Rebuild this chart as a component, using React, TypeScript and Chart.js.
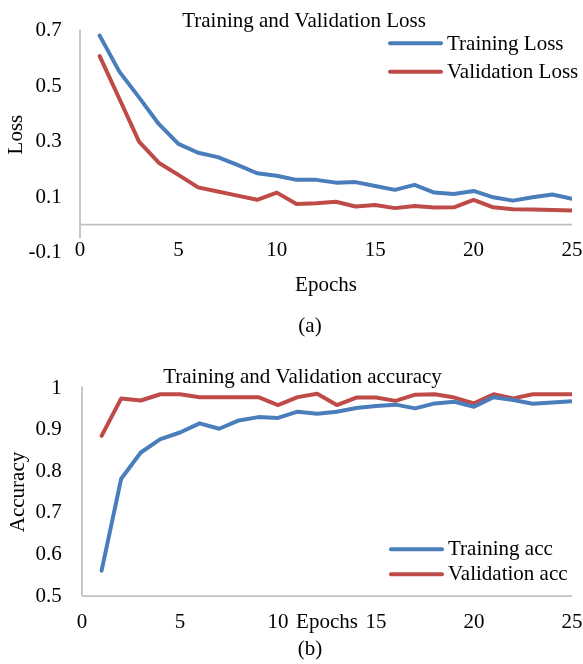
import React, { useEffect, useRef } from 'react';
import { Chart, registerables } from 'chart.js';

Chart.register(...registerables);

// ---------- data ----------
const epochs = [1, 2, 3, 4, 5, 6, 7, 8, 9, 10, 11, 12, 13, 14, 15, 16, 17, 18, 19, 20, 21, 22, 23, 24, 25];

const trainingLoss = [0.683, 0.553, 0.46, 0.364, 0.292, 0.26, 0.244, 0.216, 0.186, 0.177, 0.162, 0.162, 0.152, 0.154, 0.14, 0.126, 0.144, 0.116, 0.111, 0.122, 0.099, 0.087, 0.099, 0.109, 0.094];
const validationLoss = [0.609, 0.455, 0.3, 0.224, 0.18, 0.135, 0.12, 0.105, 0.09, 0.116, 0.075, 0.078, 0.083, 0.066, 0.071, 0.06, 0.068, 0.062, 0.063, 0.09, 0.063, 0.056, 0.055, 0.053, 0.051];

const trainingAcc = [0.561, 0.782, 0.845, 0.877, 0.893, 0.915, 0.902, 0.922, 0.93, 0.928, 0.943, 0.938, 0.943, 0.952, 0.957, 0.96, 0.951, 0.963, 0.967, 0.955, 0.978, 0.971, 0.962, 0.965, 0.968];
const validationAcc = [0.885, 0.975, 0.97, 0.985, 0.985, 0.978, 0.978, 0.978, 0.978, 0.959, 0.978, 0.986, 0.959, 0.977, 0.977, 0.969, 0.984, 0.985, 0.977, 0.963, 0.985, 0.975, 0.985, 0.985, 0.985];

const xTickValues = [0, 5, 10, 15, 20, 25];
const xTickLabels = ['0', '5', '10', '15', '20', '25'];
const lossTickValues = [-0.1, 0.1, 0.3, 0.5, 0.7];
const lossTickLabels = ['-0.1', '0.1', '0.3', '0.5', '0.7'];
const accTickValues = [0.5, 0.6, 0.7, 0.8, 0.9, 1];
const accTickLabels = ['0.5', '0.6', '0.7', '0.8', '0.9', '1'];

const lossTitle = 'Training and Validation Loss';
const accTitle = 'Training and Validation accuracy';
const lossSeriesNames = ['Training Loss', 'Validation Loss'];
const accSeriesNames = ['Training acc', 'Validation acc'];

// ---------- styles ----------
const FONT = "'Liberation Serif', 'Times New Roman', serif";
const FS = 21;
const BLUE = '#4A7EBB';
const RED = '#BE4B48';
const AXIS = '#BFBFBF';

const overlayPlugin = {
  id: 'overlay',
  beforeDatasetsDraw(chart: any, _args: any, opts: any) {
    const { ctx } = chart;
    const xs = chart.scales.x;
    const ys = chart.scales.y;
    ctx.save();
    ctx.strokeStyle = AXIS;
    ctx.lineWidth = 1.75;
    const ax = xs.getPixelForValue(xs.min);
    ctx.beginPath();
    ctx.moveTo(ax, ys.getPixelForValue(ys.max) - 1.5);
    ctx.lineTo(ax, ys.getPixelForValue(ys.min));
    ctx.stroke();
    const hy = ys.getPixelForValue(opts.hLineValue);
    ctx.beginPath();
    ctx.moveTo(ax, hy);
    ctx.lineTo(xs.getPixelForValue(xs.max), hy);
    ctx.stroke();
    ctx.restore();
  },
  afterDraw(chart: any, _args: any, opts: any) {
    const { ctx } = chart;
    ctx.save();
    ctx.fillStyle = '#000';
    ctx.font = `${FS}px ${FONT}`;
    ctx.textAlign = 'center';
    ctx.textBaseline = 'alphabetic';
    ctx.fillText(opts.title, opts.titleX, opts.titleY);
    chart.data.datasets.forEach((ds: any, i: number) => {
      ctx.strokeStyle = ds.borderColor;
      ctx.lineWidth = 4;
      ctx.lineCap = 'round';
      ctx.beginPath();
      ctx.moveTo(opts.legendX1, opts.legendLineY[i]);
      ctx.lineTo(opts.legendX2, opts.legendLineY[i]);
      ctx.stroke();
      ctx.textAlign = 'left';
      ctx.fillText(ds.label, opts.legendTextX, opts.legendTextY[i]);
    });
    ctx.restore();
  },
};

function makeConfig(p: any) {
  const series = [p.train, p.val];
  const colors = [BLUE, RED];
  return {
    type: 'line',
    data: {
      datasets: series.map((vals: number[], i: number) => ({
        label: p.names[i],
        data: epochs.map((e, j) => ({ x: e, y: vals[j] })),
        borderColor: colors[i],
        backgroundColor: colors[i],
        borderWidth: 4,
        pointRadius: 0,
        tension: 0,
        borderJoinStyle: 'round',
        borderCapStyle: 'round',
        fill: false,
      })),
    },
    plugins: [overlayPlugin],
    options: {
      responsive: false,
      animation: false,
      devicePixelRatio: 1,
      layout: { padding: { top: p.padTop, right: 11, bottom: 0, left: 0 } },
      plugins: {
        legend: { display: false },
        title: { display: false },
        tooltip: { enabled: false },
        overlay: p.overlay,
      },
      scales: {
        x: {
          type: 'linear',
          min: 0,
          max: 25,
          grid: { display: false, drawTicks: false },
          border: { display: false },
          afterBuildTicks: (s: any) => {
            s.ticks = xTickValues.map((v) => ({ value: v }));
          },
          afterFit: (s: any) => {
            s.height = p.xHeight;
            s.paddingLeft = 0;
            s.paddingRight = 0;
          },
          ticks: {
            autoSkip: false,
            maxRotation: 0,
            padding: p.xTickPad,
            color: '#000',
            font: { family: FONT, size: FS },
            callback: (_v: any, i: number) => xTickLabels[i],
          },
          title: {
            display: true,
            text: 'Epochs',
            color: '#000',
            font: { family: FONT, size: FS },
            padding: { top: 0, bottom: p.xTitlePadBottom },
          },
        },
        y: {
          type: 'linear',
          min: p.yMin,
          max: p.yMax,
          grid: { display: false, drawTicks: false },
          border: { display: false },
          afterBuildTicks: (s: any) => {
            s.ticks = p.yTickValues.map((v: number) => ({ value: v }));
          },
          afterFit: (s: any) => {
            s.width = p.yWidth;
          },
          ticks: {
            autoSkip: false,
            padding: p.yTickPad,
            color: '#000',
            font: { family: FONT, size: FS },
            callback: (_v: any, i: number) => p.yTickLabels[i],
          },
          title: {
            display: true,
            text: p.yTitle,
            color: '#000',
            font: { family: FONT, size: FS },
            padding: { top: p.yTitlePadTop, bottom: 0 },
          },
        },
      },
    },
  };
}

function ChartCanvas({ params, top, height }: any) {
  const ref = useRef<HTMLCanvasElement>(null);
  useEffect(() => {
    const chart = new Chart(ref.current as HTMLCanvasElement, makeConfig(params) as any);
    return () => chart.destroy();
  }, []);
  return (
    <canvas
      ref={ref}
      width={583}
      height={height}
      style={{ position: 'absolute', left: 0, top, width: 583, height }}
    />
  );
}

// loss axis: visible extent runs from 0.7 down to about -0.049 (the -0.1 label sits just below)
const lossParams = {
  train: trainingLoss,
  val: validationLoss,
  names: lossSeriesNames,
  yMin: -0.049,
  yMax: 0.7,
  yTickValues: lossTickValues,
  yTickLabels: lossTickLabels,
  yTitle: 'Loss',
  padTop: 30.8,
  xHeight: 101.7,
  xTickPad: -0.9,
  xTitlePadBottom: 42.4,
  yWidth: 80,
  yTickPad: 18.3,
  yTitlePadTop: 3.4,
  overlay: {
    title: lossTitle,
    titleX: 304,
    titleY: 26.7,
    legendX1: 390,
    legendX2: 441,
    legendTextX: 447,
    legendLineY: [43.3, 71.7],
    legendTextY: [49.5, 78.3],
    hLineValue: 0,
  },
};

const accParams = {
  train: trainingAcc,
  val: validationAcc,
  names: accSeriesNames,
  yMin: 0.5,
  yMax: 1,
  yTickValues: accTickValues,
  yTickLabels: accTickLabels,
  yTitle: 'Accuracy',
  padTop: 48,
  xHeight: 68,
  xTickPad: 13.4,
  xTitlePadBottom: 29.4,
  yWidth: 82,
  yTickPad: 20.3,
  yTitlePadTop: 5.7,
  overlay: {
    title: accTitle,
    titleX: 302.5,
    titleY: 43.3,
    legendX1: 391,
    legendX2: 442,
    legendTextX: 448,
    legendLineY: [209.3, 234.3],
    legendTextY: [215, 240],
    hLineValue: 0.5,
  },
};

const captionStyle: React.CSSProperties = {
  position: 'absolute',
  width: 60,
  marginLeft: -30,
  textAlign: 'center',
  fontFamily: FONT,
  fontSize: FS,
  lineHeight: '26px',
  color: '#000',
};

export default function App() {
  return (
    <div style={{ position: 'absolute', left: 0, top: 0, width: 583, height: 664, background: '#fff', overflow: 'hidden' }}>
      <ChartCanvas params={lossParams} top={0} height={340} />
      <ChartCanvas params={accParams} top={340} height={324} />
      <div style={{ ...captionStyle, left: 310, top: 312 }}>(a)</div>
      <div style={{ ...captionStyle, left: 310, top: 635 }}>(b)</div>
    </div>
  );
}
